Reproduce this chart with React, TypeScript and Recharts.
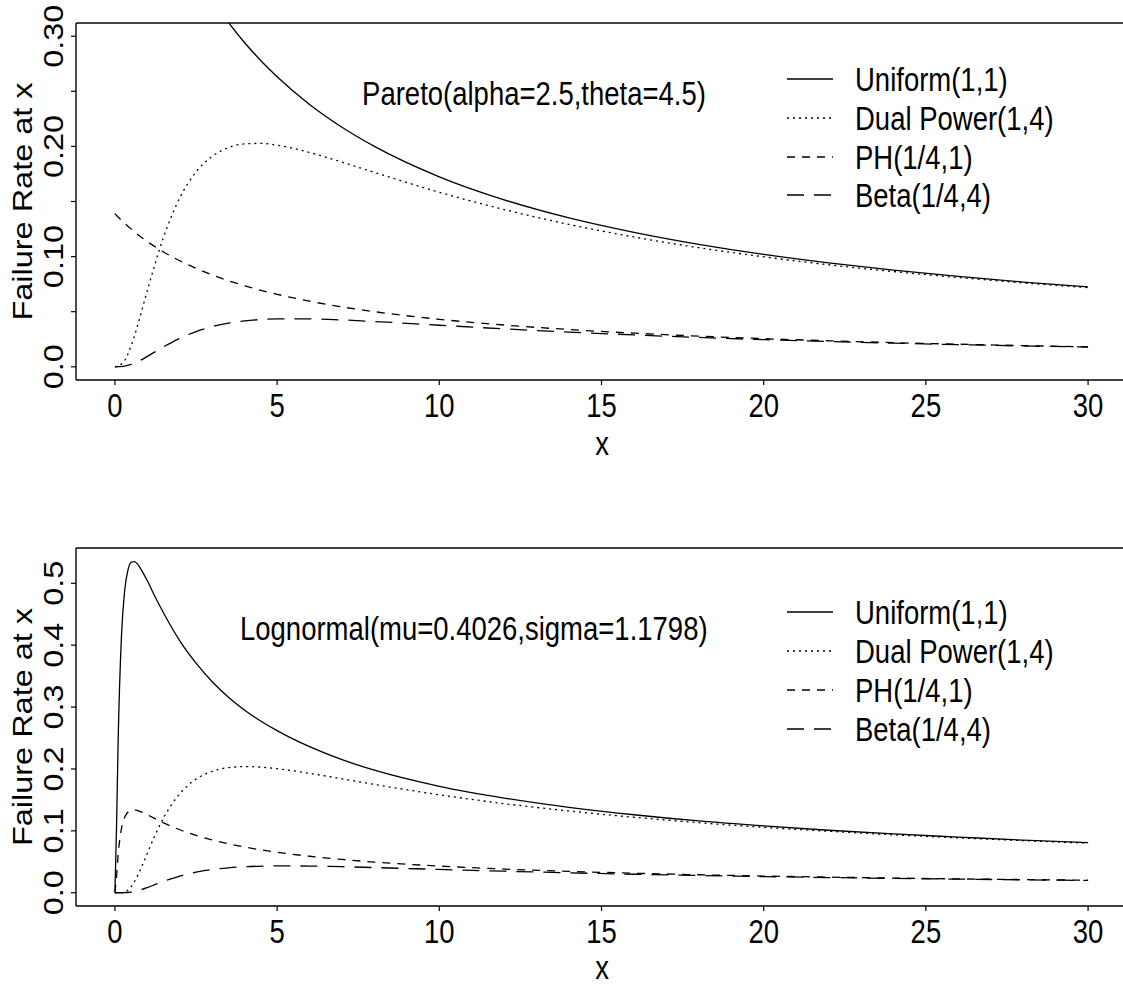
import { Line, LineChart, ReferenceLine, XAxis, YAxis } from 'recharts';

const FONT = '"Liberation Sans", Arial, Helvetica, sans-serif';
const FS = 27.5;
// the figure is a bit taller than the font's natural proportions
const SY = 1.18;

// Pareto(alpha=2.5, theta=4.5) panel
const paretoX = [0, 0.25, 0.5, 0.75, 1, 1.5, 2, 2.5, 3, 3.5, 4, 4.5, 5, 6, 7, 8, 10, 12, 14, 16, 18, 20, 22, 24, 26, 28, 30];
const paretoUniform = [0.5556, 0.5263, 0.5, 0.4762, 0.4545, 0.4167, 0.3846, 0.3571, 0.3333, 0.3125, 0.2941, 0.2778, 0.2632, 0.2381, 0.2174, 0.2, 0.1724, 0.1515, 0.1351, 0.122, 0.1111, 0.102, 0.0943, 0.0877, 0.082, 0.0769, 0.0725];
const paretoDual = [0, 0.0037, 0.0191, 0.0428, 0.0693, 0.1177, 0.1534, 0.1768, 0.1911, 0.1989, 0.2023, 0.2027, 0.2011, 0.1945, 0.1857, 0.1764, 0.1584, 0.1427, 0.1292, 0.1178, 0.1081, 0.0998, 0.0926, 0.0864, 0.081, 0.0761, 0.0718];
const paretoPH = [0.1389, 0.1316, 0.125, 0.119, 0.1136, 0.1042, 0.0962, 0.0893, 0.0833, 0.0781, 0.0735, 0.0694, 0.0658, 0.0595, 0.0543, 0.05, 0.0431, 0.0379, 0.0338, 0.0305, 0.0278, 0.0255, 0.0236, 0.0219, 0.0205, 0.0192, 0.0181];
const paretoBeta = [0, 0.0004, 0.0022, 0.0054, 0.0094, 0.0181, 0.0258, 0.032, 0.0365, 0.0396, 0.0417, 0.0429, 0.0435, 0.0435, 0.0425, 0.0411, 0.0377, 0.0344, 0.0315, 0.0289, 0.0266, 0.0246, 0.0229, 0.0214, 0.0201, 0.0189, 0.0179];

// Lognormal(mu=0.4026, sigma=1.1798) panel
const lognX = [0, 0.05, 0.1, 0.2, 0.3, 0.4, 0.5, 0.6, 0.7, 0.8, 1, 1.25, 1.5, 2, 2.5, 3, 3.5, 4, 5, 6, 7, 8, 10, 12, 14, 16, 18, 20, 22, 24, 26, 28, 30];
const lognUniform = [0, 0.107, 0.247, 0.413, 0.488, 0.521, 0.534, 0.535, 0.531, 0.523, 0.504, 0.477, 0.452, 0.407, 0.371, 0.341, 0.316, 0.295, 0.262, 0.236, 0.215, 0.198, 0.172, 0.153, 0.138, 0.126, 0.116, 0.108, 0.101, 0.095, 0.09, 0.085, 0.081];
const lognDual = [0, 0, 0, 0.0001, 0.0012, 0.0042, 0.0097, 0.0177, 0.0277, 0.0391, 0.064, 0.0944, 0.121, 0.1601, 0.1836, 0.1963, 0.2022, 0.2039, 0.2004, 0.1929, 0.1841, 0.175, 0.1583, 0.144, 0.1321, 0.122, 0.1132, 0.1057, 0.0994, 0.0936, 0.0887, 0.0842, 0.0801];
const lognPH = [0, 0.0269, 0.0617, 0.1033, 0.1221, 0.1303, 0.1334, 0.1338, 0.1327, 0.1308, 0.1259, 0.1193, 0.1129, 0.1018, 0.0928, 0.0853, 0.0791, 0.0738, 0.0654, 0.059, 0.0538, 0.0496, 0.0431, 0.0383, 0.0345, 0.0316, 0.0291, 0.027, 0.0253, 0.0237, 0.0224, 0.0213, 0.0202];
const lognBeta = [0, 0, 0, 0, 0.0001, 0.0004, 0.0011, 0.002, 0.0033, 0.0048, 0.0084, 0.0134, 0.0184, 0.0269, 0.0332, 0.0375, 0.0403, 0.042, 0.0434, 0.0431, 0.0421, 0.0407, 0.0377, 0.0348, 0.0322, 0.0299, 0.0279, 0.0261, 0.0246, 0.0232, 0.022, 0.0209, 0.0199];

const xTicks = [0, 5, 10, 15, 20, 25, 30];
const paretoYTicks = [0, 0.05, 0.1, 0.15, 0.2, 0.25, 0.3];
const paretoYLabels = ['0.0', '', '0.10', '', '0.20', '', '0.30'];
const lognYTicks = [0, 0.1, 0.2, 0.3, 0.4, 0.5];
const lognYLabels = ['0.0', '0.1', '0.2', '0.3', '0.4', '0.5'];

const seriesNames = ['Uniform(1,1)', 'Dual Power(1,4)', 'PH(1/4,1)', 'Beta(1/4,4)'];
const seriesKeys = ['uniform', 'dual', 'ph', 'beta'];
const seriesDash = [undefined, '2 4', '8 7', '17 10'];

const buildRows = (xs: number[], u: number[], d: number[], p: number[], b: number[]) =>
  xs.map((x, i) => ({ x, uniform: u[i], dual: d[i], ph: p[i], beta: b[i] }));

const paretoData = buildRows(paretoX, paretoUniform, paretoDual, paretoPH, paretoBeta);
const lognData = buildRows(lognX, lognUniform, lognDual, lognPH, lognBeta);

const XTick = ({ x, y, payload }: any) => (
  <text
    transform={`translate(${x},${y + 32}) scale(1,${SY})`}
    textAnchor="middle"
    fontSize={FS}
    fontFamily={FONT}
    fill="#000"
  >
    {payload.value}
  </text>
);

const makeYTick = (ticks: number[], labels: string[]) => ({ x, y, payload }: any) => {
  const idx = ticks.findIndex((t) => Math.abs(t - payload.value) < 1e-9);
  const label = idx >= 0 ? labels[idx] : '';
  if (!label) return <g />;
  return (
    <text
      transform={`translate(${x - 8},${y}) scale(1,${SY}) rotate(-90)`}
      textAnchor="middle"
      fontSize={FS}
      fontFamily={FONT}
      fill="#000"
    >
      {label}
    </text>
  );
};

type PanelProps = {
  top: number;
  height: number;
  marginTop: number;
  axisHeight: number;
  data: any[];
  yDomain: [number, number];
  yTicks: number[];
  yLabels: string[];
  title: string;
  titleX: number;
  titleAnchor: 'start' | 'middle';
  titleBase: number;
  legendY: number[];
  xTitleBase: number;
};

function Panel(p: PanelProps) {
  const plotTop = p.marginTop;
  const plotBottom = p.height - p.axisHeight;
  const yMid = (plotTop + plotBottom) / 2;
  const txt = (x: number, y: number, s: string, anchor: 'start' | 'middle' = 'start') => (
    <text
      transform={`translate(${x},${y}) scale(1,${SY})`}
      textAnchor={anchor}
      fontSize={FS}
      fontFamily={FONT}
      fill="#000"
    >
      {s}
    </text>
  );

  return (
    <div style={{ position: 'absolute', left: 0, top: p.top, width: 1123, height: p.height, overflow: 'hidden' }}>
      <LineChart width={1140} height={p.height} data={p.data} margin={{ top: p.marginTop, right: 13, left: 0, bottom: 0 }}>
        <XAxis
          dataKey="x"
          type="number"
          domain={[-1.2, 31.2]}
          allowDataOverflow
          ticks={xTicks}
          height={p.axisHeight}
          tickSize={5}
          tickMargin={0}
          tick={<XTick />}
          axisLine={{ stroke: '#000', strokeWidth: 1.4 }}
          tickLine={{ stroke: '#000', strokeWidth: 1.2 }}
        />
        <YAxis
          type="number"
          domain={p.yDomain}
          allowDataOverflow
          ticks={p.yTicks}
          width={76}
          tickSize={5}
          tickMargin={0}
          tick={makeYTick(p.yTicks, p.yLabels)}
          axisLine={{ stroke: '#000', strokeWidth: 1.4 }}
          tickLine={{ stroke: '#000', strokeWidth: 1.2 }}
        />
        {/* top edge of the plot box */}
        <ReferenceLine y={p.yDomain[1]} stroke="#444" strokeWidth={1.8} ifOverflow="visible" />
        {seriesKeys.map((k, i) => (
          <Line
            key={k}
            type="monotone"
            dataKey={k}
            stroke="#000"
            strokeWidth={1.3}
            strokeDasharray={seriesDash[i]}
            dot={false}
            activeDot={false}
            isAnimationActive={false}
          />
        ))}
      </LineChart>
      <svg
        width={1123}
        height={p.height}
        style={{ position: 'absolute', left: 0, top: 0, pointerEvents: 'none' }}
      >
        <text
          transform={`translate(32,${yMid}) scale(1,${SY}) rotate(-90)`}
          textAnchor="middle"
          fontSize={FS}
          fontFamily={FONT}
          fill="#000"
        >
          Failure Rate at x
        </text>
        {txt(602, p.xTitleBase, 'x', 'middle')}
        {txt(p.titleX, p.titleBase, p.title, p.titleAnchor)}
        {seriesNames.map((name, i) => (
          <g key={name}>
            <line
              x1={787}
              x2={833}
              y1={p.legendY[i]}
              y2={p.legendY[i]}
              stroke="#000"
              strokeWidth={1.3}
              strokeDasharray={seriesDash[i]}
            />
            {txt(855, p.legendY[i] + 11.6, name)}
          </g>
        ))}
      </svg>
    </div>
  );
}

export default function App() {
  return (
    <div style={{ position: 'absolute', left: 0, top: 0, width: 1123, height: 989, background: '#fff', overflow: 'hidden' }}>
      <Panel
        top={0}
        height={494}
        marginTop={23}
        axisHeight={114}
        data={paretoData}
        yDomain={[-0.012, 0.312]}
        yTicks={paretoYTicks}
        yLabels={paretoYLabels}
        title="Pareto(alpha=2.5,theta=4.5)"
        titleX={534}
        titleAnchor="middle"
        titleBase={104.6}
        legendY={[79, 118, 157, 195]}
        xTitleBase={454.5}
      />
      <Panel
        top={494}
        height={495}
        marginTop={54}
        axisHeight={83}
        data={lognData}
        yDomain={[-0.0214, 0.557]}
        yTicks={lognYTicks}
        yLabels={lognYLabels}
        title="Lognormal(mu=0.4026,sigma=1.1798)"
        titleX={240}
        titleAnchor="start"
        titleBase={145.6}
        legendY={[118, 157, 196, 235]}
        xTitleBase={484.5}
      />
    </div>
  );
}
